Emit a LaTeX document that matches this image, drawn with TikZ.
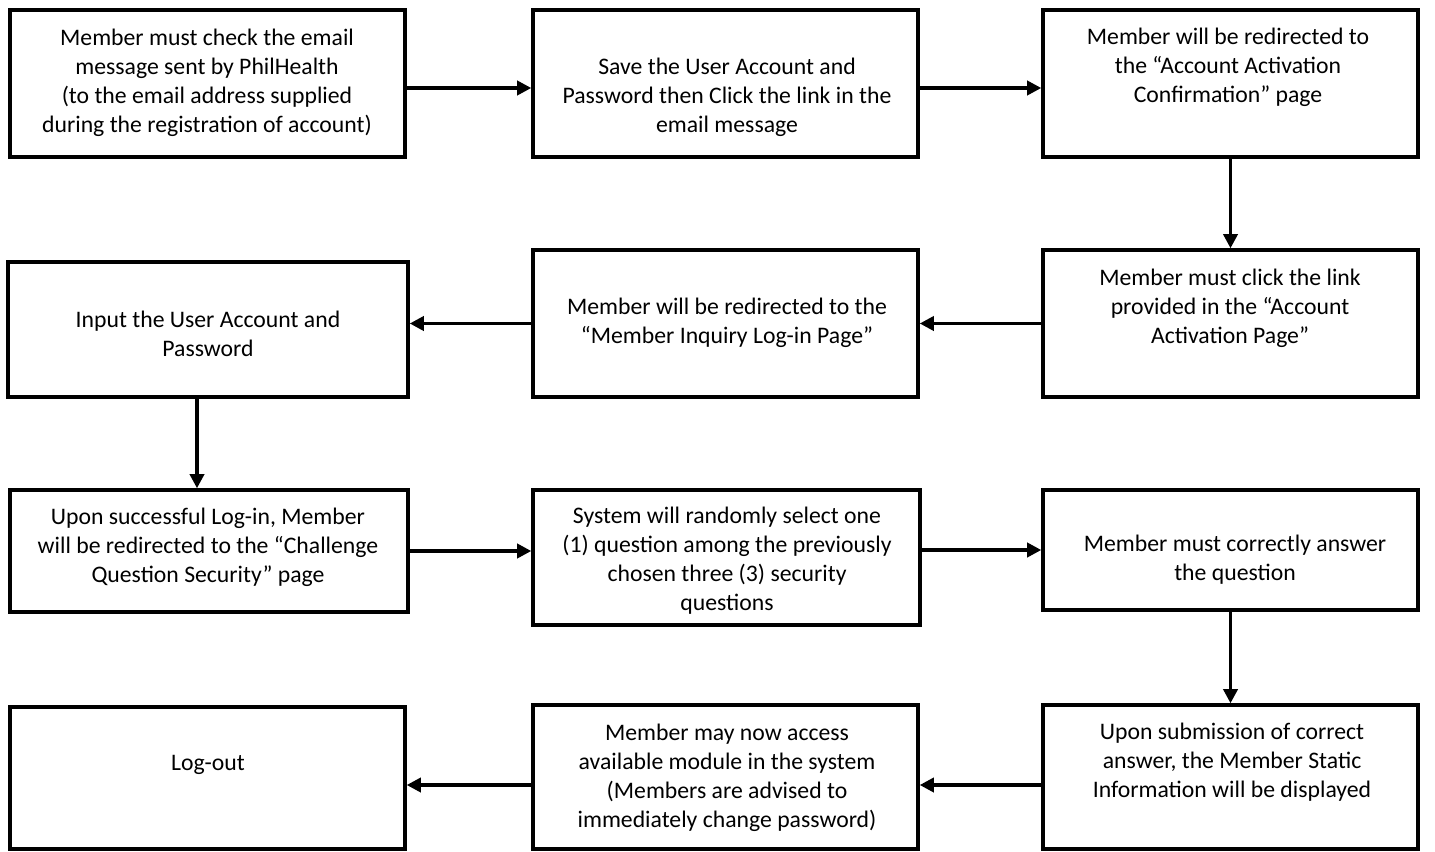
\documentclass[tikz,border=0pt]{standalone}
\usepackage{fontspec}
\setmainfont{Carlito}
\usetikzlibrary{arrows.meta,positioning}

\tikzset{
  stepbox/.style={draw, line width=2pt, inner sep=0pt},
  steptext/.style={align=center, inner sep=0pt, font=\fontsize{13.5pt}{16.5pt}\selectfont},
  flow/.style={line width=1.9pt, -{Triangle[length=8pt,width=8pt]}}
}

\begin{document}
\begin{tikzpicture}[x=0.02cm, y=-0.02cm]
  \useasboundingbox (0,0) rectangle (1435,851);

  % row 1
  \node[stepbox, minimum width=7.9cm, minimum height=2.94cm] (check) at (207.5,83.5) {};
  \node[stepbox, minimum width=7.7cm, minimum height=2.94cm] (save) at (725.5,83.5) {};
  \node[stepbox, minimum width=7.5cm, minimum height=2.94cm] (confirm) at (1230.5,83.5) {};
  \node[steptext] (check-txt) at (207,83) {Member must check the email\\ message sent by PhilHealth\\ (to the email address supplied\\ during the registration of account)};
  \node[steptext] (save-txt) at (727,97) {Save the User Account and\\ Password then Click the link in the\\ email message};
  \node[steptext] (confirm-txt) at (1228,67) {Member will be redirected to\\ the “Account Activation\\ Confirmation” page};

  % row 2
  \node[stepbox, minimum width=7.5cm, minimum height=2.94cm] (clicklink) at (1230.5,323.5) {};
  \node[stepbox, minimum width=7.7cm, minimum height=2.94cm] (loginpage) at (725.5,323.5) {};
  \node[stepbox, minimum width=8.0cm, minimum height=2.7cm] (input) at (208,329.5) {};
  \node[steptext] (clicklink-txt) at (1230,308) {Member must click the link\\ provided in the “Account\\ Activation Page”};
  \node[steptext] (loginpage-txt) at (727,323) {Member will be redirected to the\\ “Member Inquiry Log-in Page”};
  \node[steptext] (input-txt) at (208,333.5) {Input the User Account and\\ Password};

  % row 3
  \node[stepbox, minimum width=7.96cm, minimum height=2.44cm] (challenge) at (209,551) {};
  \node[stepbox, minimum width=7.74cm, minimum height=2.7cm] (select) at (726.5,557.5) {};
  \node[stepbox, minimum width=7.5cm, minimum height=2.4cm] (answer) at (1230.5,550) {};
  \node[steptext] (challenge-txt) at (208,547) {Upon successful Log-in, Member\\ will be redirected to the “Challenge\\ Question Security” page};
  \node[steptext] (select-txt) at (727,561) {System will randomly select one\\ (1) question among the previously\\ chosen three (3) security\\ questions};
  \node[steptext] (answer-txt) at (1235,560) {Member must correctly answer\\ the question};

  % row 4
  \node[stepbox, minimum width=7.5cm, minimum height=2.88cm] (display) at (1230.5,777) {};
  \node[stepbox, minimum width=7.7cm, minimum height=2.88cm] (access) at (725.5,777) {};
  \node[stepbox, minimum width=7.9cm, minimum height=2.84cm] (logout) at (207.5,778) {};
  \node[steptext] (display-txt) at (1232,762) {Upon submission of correct\\ answer, the Member Static\\ Information will be displayed};
  \node[steptext] (access-txt) at (727,777.5) {Member may now access\\ available module in the system\\ (Members are advised to\\ immediately change password)};
  \node[steptext] (logout-txt) at (208,765) {Log-out};

  % connectors
  \draw[flow] ([yshift=-0.09cm]check.east) -- ([yshift=-0.09cm]check.east -| save.west);
  \draw[flow] ([yshift=-0.09cm]save.east) -- ([yshift=-0.09cm]save.east -| confirm.west);
  \draw[flow] (confirm) -- (clicklink);
  \draw[flow] (clicklink) -- (loginpage);
  \draw[flow] (loginpage.west) -- (loginpage.west -| input.east);
  \draw[flow] ([xshift=-0.22cm]input.south) -- ([xshift=-0.22cm]input.south |- challenge.north);
  \draw[flow] (challenge.east) -- (challenge.east -| select.west);
  \draw[flow] (answer.west -| select.east) -- (answer.west);
  \draw[flow] (answer) -- (display);
  \draw[flow] ([yshift=-0.16cm]display.west) -- ([yshift=-0.16cm]display.west -| access.east);
  \draw[flow] ([yshift=-0.16cm]access.west) -- ([yshift=-0.16cm]access.west -| logout.east);
\end{tikzpicture}
\end{document}
